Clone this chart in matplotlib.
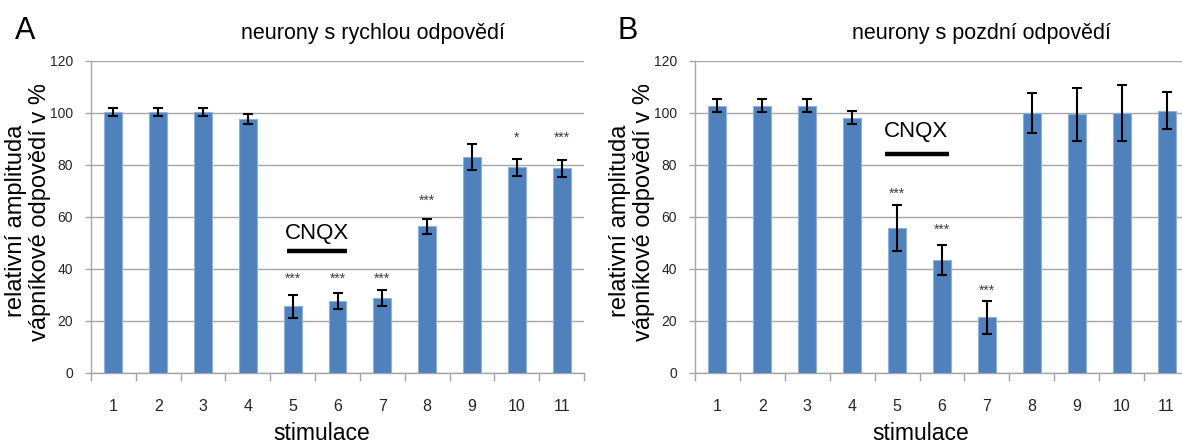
import matplotlib
matplotlib.use("Agg")
import matplotlib.pyplot as plt
from matplotlib import font_manager

# ---- data -------------------------------------------------------------
stimuli = [str(i) for i in range(1, 12)]

fast_mean = [100.4, 100.4, 100.4, 97.8, 25.6, 27.7, 29.0, 56.4, 83.0, 79.1, 78.7]
fast_err = [1.6, 1.6, 1.6, 2.0, 4.3, 3.0, 3.1, 3.0, 5.1, 3.4, 3.2]
fast_stars = ["", "", "", "", "***", "***", "***", "***", "", "*", "***"]
fast_star_y = [0, 0, 0, 0, 36.2, 36.2, 36.2, 66.3, 0, 90.3, 90.3]

late_mean = [102.8, 102.8, 102.8, 98.2, 55.7, 43.5, 21.4, 100.0, 99.5, 100.0, 100.9]
late_err = [2.5, 2.5, 2.5, 2.5, 8.9, 5.8, 6.3, 7.8, 10.2, 10.6, 7.0]
late_stars = ["", "", "", "", "***", "***", "***", "", "", "", ""]
late_star_y = [0, 0, 0, 0, 68.8, 55.0, 31.7, 0, 0, 0, 0]

yticks = [0, 20, 40, 60, 80, 100, 120]

# ---- fonts ------------------------------------------------------------
available = {f.name for f in font_manager.fontManager.ttflist}
SANS = "Liberation Sans" if "Liberation Sans" in available else "DejaVu Sans"

BAR = "#4f81bd"
GRID = "#a6a6a6"

W, H = 1182, 446
fig = plt.figure(figsize=(W / 100, H / 100), dpi=100)


def px_axes(left, right, top, bottom):
    return [left / W, 1 - bottom / H, (right - left) / W, (bottom - top) / H]


def draw_panel(ax, means, errs, stars, star_y, cnqx_text_xy, cnqx_line):
    x = list(range(1, len(stimuli) + 1))
    ax.bar(x, means, width=0.4, color=BAR, edgecolor="#8fb1dc", linewidth=0.8, zorder=3)
    ax.errorbar(x, means, yerr=errs, fmt="none", ecolor="black",
                elinewidth=1.5, capsize=3.5, capthick=1.5, zorder=4)
    for xi, s, sy in zip(x, stars, star_y):
        if s:
            ax.text(xi, sy, s, ha="center", va="center", fontsize=10,
                    color="#404040", family=SANS, zorder=5)

    ax.text(cnqx_text_xy[0], cnqx_text_xy[1], "CNQX", ha="center", va="center",
            fontsize=16, family=SANS, color="black", zorder=5)
    ax.plot(cnqx_line[0], [cnqx_line[1]] * 2, color="black", lw=3.2,
            solid_capstyle="butt", zorder=5)

    ax.set_xlim(0.5, len(stimuli) + 0.5)
    ax.set_ylim(0, 120)
    ax.set_yticks(yticks)
    ax.set_yticklabels([str(v) for v in yticks], family=SANS, fontsize=10,
                       color="#262626")
    ax.set_xticks(x)
    ax.set_xticklabels(stimuli, family=SANS, fontsize=11.5, color="#262626")
    ax.set_xticks([i + 0.5 for i in range(0, len(stimuli) + 1)], minor=True)
    ax.tick_params(axis="x", which="major", length=0, pad=19)
    ax.tick_params(axis="x", which="minor", length=6, width=1, color=GRID)
    ax.tick_params(axis="y", length=4, width=1, color=GRID, pad=9)

    ax.grid(axis="y", color=GRID, lw=1, zorder=0)
    ax.set_axisbelow(True)
    for side in ("top", "right"):
        ax.spines[side].set_visible(False)
    for side in ("left", "bottom"):
        ax.spines[side].set_color(GRID)
        ax.spines[side].set_linewidth(1)


axA = fig.add_axes(px_axes(91, 584, 61, 373))
draw_panel(axA, fast_mean, fast_err, fast_stars, fast_star_y,
           (5.54, 53.6), ([4.87, 6.21], 47.0))

axB = fig.add_axes(px_axes(695, 1189, 61, 373))
draw_panel(axB, late_mean, late_err, late_stars, late_star_y,
           (5.41, 93.0), ([4.73, 6.16], 84.2))


def ftext(xp, yp, s, **kw):
    fig.text(xp / W, 1 - yp / H, s, **kw)


# panel letters and titles
ftext(25, 31, "A", fontsize=22, family=SANS, ha="center", va="center")
ftext(628, 31, "B", fontsize=22, family=SANS, ha="center", va="center")
ftext(373, 33, "neurony s rychlou odpovědí", fontsize=15.5, family=SANS,
      ha="center", va="center")
ftext(981, 33, "neurony s pozdní odpovědí", fontsize=15.5, family=SANS,
      ha="center", va="center")

# y-axis labels (two lines each)
for ax_left in (91, 695):
    ftext(ax_left - 75, 221, "relativní amplituda", fontsize=17, family=SANS,
          rotation=90, ha="center", va="center")
    ftext(ax_left - 51, 212, "vápníkové odpovědí v %", fontsize=17, family=SANS,
          rotation=90, ha="center", va="center")

# x-axis labels
ftext(322, 434, "stimulace", fontsize=16.5, family=SANS, ha="center", va="center")
ftext(921, 434, "stimulace", fontsize=16.5, family=SANS, ha="center", va="center")

fig.savefig("out.png", dpi=100)
